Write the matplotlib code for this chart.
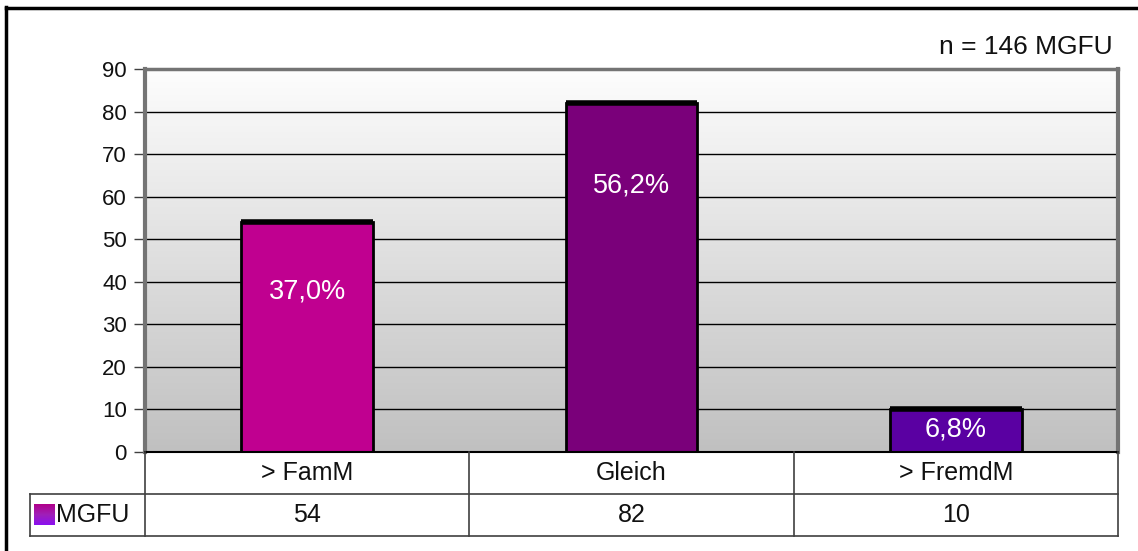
import numpy as np
import matplotlib
matplotlib.use("Agg")
import matplotlib.pyplot as plt
from matplotlib.colors import LinearSegmentedColormap
from matplotlib.lines import Line2D

plt.rcParams['font.family'] = ['Liberation Sans', 'DejaVu Sans']

# MGFU answers per category
categories = ['> FamM', 'Gleich', '> FremdM']
counts = [54, 82, 10]
total = 146
series_name = 'MGFU'
bar_colors = ['#c00090', '#7a007a', '#5a00a2']
# where the percentage sits, as share of the bar height
label_frac = [0.70, 0.765, 0.52]

W, H = 1138, 551
fig = plt.figure(figsize=(W / 100, H / 100), dpi=100)


def fx(px):
    return px / W


def fy(py):
    return 1 - py / H


# plot area in pixels
left, right, top, bottom = 145, 1118, 69, 452
ax = fig.add_axes([fx(left), fy(bottom), (right - left) / W, (bottom - top) / H])
x = np.arange(len(categories))
ax.set_xlim(-0.5, len(categories) - 0.5)
ax.set_ylim(0, 90)

# grey gradient background
bg = LinearSegmentedColormap.from_list('bg', ['#c0c0c0', '#fdfdfd'])
ax.imshow(np.linspace(0, 1, 256).reshape(-1, 1), cmap=bg, origin='lower',
          extent=[-0.5, len(categories) - 0.5, 0, 90], aspect='auto', zorder=0)

ax.set_yticks(np.arange(0, 91, 10))
ax.set_xticks([])
ax.yaxis.grid(True, color='black', linewidth=1)
ax.set_axisbelow(True)

width = 0.405
ax.bar(x, counts, width=width, color=bar_colors, edgecolor='black', linewidth=2, zorder=2)
ax.hlines(counts, x - width / 2, x + width / 2, color='black', linewidth=4, zorder=3)

for xi, c, f in zip(x, counts, label_frac):
    pct = f"{c / total * 100:.1f}%".replace('.', ',')
    ax.text(xi, c * f, pct, ha='center', va='center', color='white', fontsize=19.5, zorder=4)

for side in ['left', 'top', 'right']:
    ax.spines[side].set_color('#747474')
ax.spines['left'].set_linewidth(3)
ax.spines['top'].set_linewidth(2.5)
ax.spines['right'].set_linewidth(3)
ax.spines['bottom'].set_color('black')
ax.spines['bottom'].set_linewidth(1.5)
ax.tick_params(axis='y', length=8, width=1, color='#404040', labelsize=16, pad=5,
               labelcolor='#111111')

# data table under the axis
tleft, tbottom = 30, 536
tax = fig.add_axes([fx(tleft), fy(tbottom), (right - tleft) / W, (tbottom - bottom) / H])
ext = (left - tleft) / (right - left) * len(categories)
x0 = -0.5 - ext
x1 = len(categories) - 0.5
tax.axis('off')

lc = '#404040'
tax.add_line(Line2D([x0, x1], [0, 0], color=lc, lw=1.2, clip_on=False))
tax.add_line(Line2D([x0, x1], [1, 1], color=lc, lw=1.2, clip_on=False))
tax.add_line(Line2D([x0, x0], [0, 1], color=lc, lw=1.2, clip_on=False))
for b in np.arange(-0.5, len(categories), 1.0):
    tax.add_line(Line2D([b, b], [0, 2], color=lc, lw=1.2, clip_on=False))

for xi, cat, c in zip(x, categories, counts):
    tax.text(xi, 1.5, cat, ha='center', va='center', fontsize=18, color='#111111')
    tax.text(xi, 0.5, str(c), ha='center', va='center', fontsize=18, color='#111111')

# legend key in the table
unit = (right - left) / len(categories)
sw = LinearSegmentedColormap.from_list('sw', ['#8a10f0', '#a020b8', '#b0008a'])
tax.imshow(np.linspace(0, 1, 64).reshape(-1, 1), cmap=sw, origin='lower',
           extent=[x0 + 4 / unit, x0 + 24 / unit, 0.26, 0.74], aspect='auto', zorder=2)
tax.set_xlim(x0, x1)
tax.set_ylim(0, 2)
tax.text(x0 + 26 / unit, 0.5, series_name, ha='left', va='center', fontsize=18, color='#111111')

fig.text(fx(1113), fy(47), f"n = {total} MGFU", ha='right', va='center', fontsize=19, color='#111111')

# outer frame (left and top edges)
fig.add_artist(Line2D([fx(6), fx(6)], [fy(7), 0], color='black', lw=2.5, transform=fig.transFigure))
fig.add_artist(Line2D([fx(6), 1], [fy(7.5), fy(7.5)], color='black', lw=2.5, transform=fig.transFigure))

fig.savefig('out.png', dpi=100)
